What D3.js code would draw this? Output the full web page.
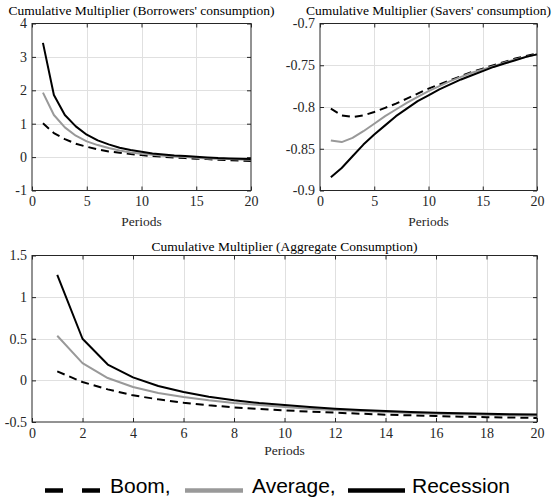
<!DOCTYPE html>
<html>
<head>
<meta charset="utf-8">
<script src="https://cdn.jsdelivr.net/npm/d3@7"></script>
<style>
  html, body { margin: 0; padding: 0; background: #fff; }
  svg { display: block; }
</style>
</head>
<body>
<div id="chart"></div>
<script>
// ---------------- data ----------------
const periods = d3.range(1, 21);

const borrowersBoom      = [1.01, 0.72, 0.54, 0.40, 0.31, 0.23, 0.17, 0.13, 0.09, 0.06, 0.03, 0.01, -0.01, -0.03, -0.05, -0.06, -0.08, -0.09, -0.10, -0.12];
const borrowersAverage   = [1.93, 1.26, 0.89, 0.64, 0.47, 0.36, 0.27, 0.20, 0.14, 0.10, 0.07, 0.04, 0.02, 0.00, -0.02, -0.04, -0.05, -0.06, -0.07, -0.08];
const borrowersRecession = [3.42, 1.86, 1.26, 0.92, 0.67, 0.50, 0.38, 0.28, 0.21, 0.16, 0.11, 0.08, 0.05, 0.03, 0.01, -0.01, -0.03, -0.04, -0.05, -0.06];

const saversBoom      = [-0.802, -0.810, -0.812, -0.810, -0.806, -0.801, -0.796, -0.790, -0.784, -0.778, -0.773, -0.768, -0.763, -0.758, -0.754, -0.750, -0.746, -0.742, -0.739, -0.736];
const saversAverage   = [-0.840, -0.842, -0.837, -0.829, -0.820, -0.811, -0.803, -0.795, -0.788, -0.781, -0.775, -0.769, -0.764, -0.759, -0.755, -0.751, -0.747, -0.743, -0.740, -0.737];
const saversRecession = [-0.884, -0.873, -0.859, -0.845, -0.833, -0.822, -0.811, -0.802, -0.793, -0.786, -0.779, -0.773, -0.767, -0.762, -0.757, -0.752, -0.748, -0.744, -0.740, -0.737];

const aggregateBoom      = [0.108, -0.02, -0.108, -0.18, -0.228, -0.268, -0.30, -0.324, -0.344, -0.36, -0.376, -0.388, -0.40, -0.412, -0.42, -0.428, -0.436, -0.442, -0.446, -0.452];
const aggregateAverage   = [0.536, 0.208, 0.028, -0.08, -0.152, -0.20, -0.24, -0.272, -0.296, -0.32, -0.34, -0.356, -0.368, -0.38, -0.392, -0.40, -0.408, -0.414, -0.419, -0.425];
const aggregateRecession = [1.268, 0.50, 0.19, 0.036, -0.068, -0.14, -0.196, -0.24, -0.272, -0.296, -0.32, -0.34, -0.356, -0.368, -0.38, -0.388, -0.396, -0.402, -0.406, -0.41];

const titles = [
  "Cumulative Multiplier (Borrowers' consumption)",
  "Cumulative Multiplier (Savers' consumption)",
  "Cumulative Multiplier (Aggregate Consumption)"
];
const xTicksSmall = [0, 5, 10, 15, 20];
const xTicksWide  = [0, 2, 4, 6, 8, 10, 12, 14, 16, 18, 20];
const yTicksBorrowers = [-1, 0, 1, 2, 3, 4];
const yTicksSavers    = [-0.9, -0.85, -0.8, -0.75, -0.7];
const yTicksAggregate = [-0.5, 0, 0.5, 1, 1.5];
const xLabel = "Periods";
const legendLabels = ["Boom,", "Average,", "Recession"];

// ---------------- layout ----------------
const W = 553, H = 497;
const svg = d3.select("#chart").append("svg").attr("width", W).attr("height", H);

const serif = "Liberation Serif, Times New Roman, serif";
const axisColor = "#262626";
const gridColor = "#e0e0e0";

const styles = {
  boom:      { color: "#000", dash: "8,5", width: 2 },
  average:   { color: "#999", dash: null,  width: 2 },
  recession: { color: "#000", dash: null,  width: 2 }
};

const panels = [
  { left: 32, top: 23.5, right: 251, bottom: 190.5, yDomain: [-1, 4], xTicks: xTicksSmall, yTicks: yTicksBorrowers,
    title: titles[0], series: [["boom", borrowersBoom], ["average", borrowersAverage], ["recession", borrowersRecession]],
    titleY: 15, xLabelY: 226 },
  { left: 320, top: 23.5, right: 537, bottom: 190.5, yDomain: [-0.9, -0.7], xTicks: xTicksSmall, yTicks: yTicksSavers,
    title: titles[1], series: [["boom", saversBoom], ["average", saversAverage], ["recession", saversRecession]],
    titleY: 15, xLabelY: 226 },
  { left: 32, top: 255.5, right: 537, bottom: 422, yDomain: [-0.5, 1.5], xTicks: xTicksWide, yTicks: yTicksAggregate,
    title: titles[2], series: [["boom", aggregateBoom], ["average", aggregateAverage], ["recession", aggregateRecession]],
    titleY: 251, xLabelY: 455 }
];

panels.forEach(p => {
  const x = d3.scaleLinear().domain([0, 20]).range([p.left, p.right]);
  const y = d3.scaleLinear().domain(p.yDomain).range([p.bottom, p.top]);
  const g = svg.append("g");

  // grid
  const grid = g.append("g").attr("stroke", gridColor).attr("stroke-width", 1);
  p.xTicks.forEach(t => {
    if (t === 0 || t === 20) return;
    grid.append("line").attr("x1", Math.round(x(t)) + 0.5).attr("x2", Math.round(x(t)) + 0.5)
      .attr("y1", p.top).attr("y2", p.bottom);
  });
  p.yTicks.forEach((t, i) => {
    if (i === 0 || i === p.yTicks.length - 1) return;
    grid.append("line").attr("y1", Math.round(y(t)) + 0.5).attr("y2", Math.round(y(t)) + 0.5)
      .attr("x1", p.left).attr("x2", p.right);
  });

  // lines
  const line = d3.line().x((d, i) => x(periods[i])).y(d => y(d));
  p.series.forEach(([key, vals]) => {
    const s = styles[key];
    g.append("path").datum(vals)
      .attr("d", line)
      .attr("fill", "none")
      .attr("stroke", s.color)
      .attr("stroke-width", s.width)
      .attr("stroke-dasharray", s.dash)
      .attr("stroke-linejoin", "round");
  });

  // axes (ticks inside)
  const fmt = d => String(+d.toFixed(4));
  const axB = g.append("g").attr("transform", `translate(0,${p.bottom})`)
    .call(d3.axisBottom(x).tickValues(p.xTicks).tickSizeInner(-4).tickSizeOuter(0).tickPadding(4).tickFormat(fmt));
  const axT = g.append("g").attr("transform", `translate(0,${p.top})`)
    .call(d3.axisTop(x).tickValues(p.xTicks).tickSizeInner(-4).tickSizeOuter(0).tickFormat(""));
  const axL = g.append("g").attr("transform", `translate(${p.left},0)`)
    .call(d3.axisLeft(y).tickValues(p.yTicks).tickSizeInner(-4).tickSizeOuter(0).tickPadding(5).tickFormat(fmt));
  const axR = g.append("g").attr("transform", `translate(${p.right},0)`)
    .call(d3.axisRight(y).tickValues(p.yTicks).tickSizeInner(-4).tickSizeOuter(0).tickFormat(""));
  [axB, axT, axL, axR].forEach(a => {
    a.attr("font-family", serif).attr("font-size", 14);
    a.select(".domain").remove();
    a.selectAll(".tick line").attr("stroke", axisColor);
    a.selectAll("text").attr("fill", axisColor).attr("font-family", serif).attr("font-size", 14);
  });
  axB.selectAll("text").attr("dy", "0.71em").attr("y", 6);

  // box
  g.append("rect").attr("x", p.left).attr("y", p.top)
    .attr("width", p.right - p.left).attr("height", p.bottom - p.top)
    .attr("fill", "none").attr("stroke", axisColor).attr("stroke-width", 1);

  // title
  g.append("text").attr("x", (p.left + p.right) / 2).attr("y", p.titleY)
    .attr("text-anchor", "middle").attr("fill", "#000")
    .attr("font-family", serif).attr("font-size", 13.5).text(p.title);
  // x label
  g.append("text").attr("x", (p.left + p.right) / 2).attr("y", p.xLabelY)
    .attr("text-anchor", "middle").attr("fill", axisColor)
    .attr("font-family", serif).attr("font-size", 13.5).text(xLabel);
});

// ---------------- legend ----------------
const lg = svg.append("g");
const ly = 490.5;
const sans = "Liberation Sans, Arial, sans-serif";
const legendItems = [
  { key: "boom", x1: 45, x2: 100, tx: 110 },
  { key: "average", x1: 185, x2: 243, tx: 252 },
  { key: "recession", x1: 348, x2: 405, tx: 412 }
];
legendItems.forEach((it, i) => {
  const s = styles[it.key];
  lg.append("line").attr("x1", it.x1).attr("x2", it.x2).attr("y1", ly).attr("y2", ly)
    .attr("stroke", s.color).attr("stroke-width", 4.5)
    .attr("stroke-dasharray", it.key === "boom" ? "18,19" : null);
  lg.append("text").attr("x", it.tx).attr("y", 493).attr("fill", "#000")
    .attr("font-family", sans).attr("font-size", 21).text(legendLabels[i]);
});
</script>
</body>
</html>
